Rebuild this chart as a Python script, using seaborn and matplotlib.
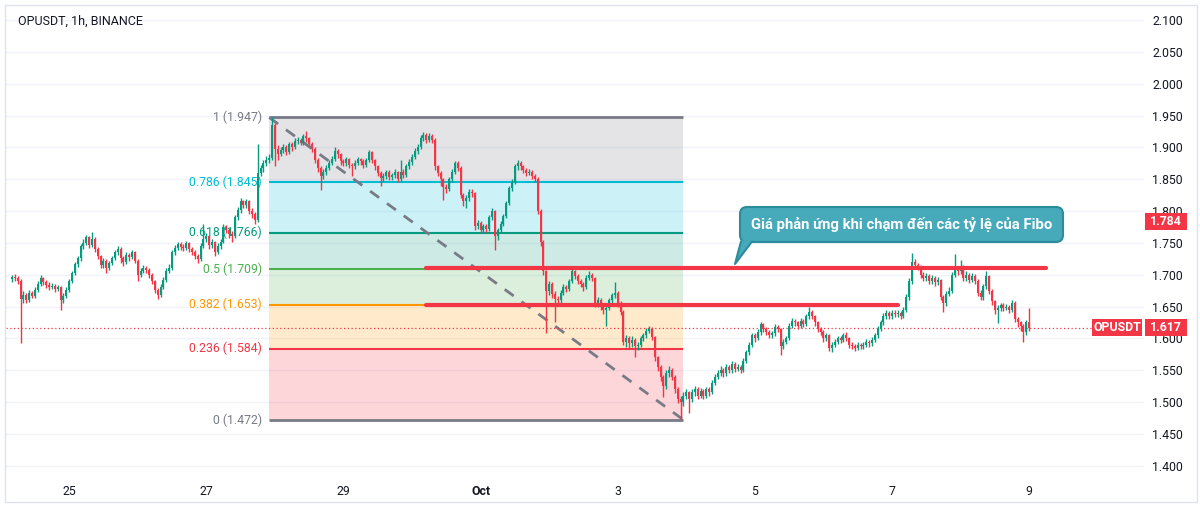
import numpy as np
import pandas as pd
import matplotlib
matplotlib.use("Agg")
import matplotlib.pyplot as plt
import matplotlib.transforms as mtransforms
from matplotlib.patches import Rectangle, Polygon, FancyBboxPatch
from matplotlib.lines import Line2D
import seaborn as sns

# ---------------- data ----------------
symbol_title = "OPUSDT, 1h, BINANCE"
start_time = "2023-09-24 04:00"
first_open = 1.693

closes = [
    1.697, 1.695, 1.690, 1.662, 1.668, 1.660, 1.672, 1.667, 1.676, 1.686,
    1.695, 1.688, 1.684, 1.680, 1.683, 1.677, 1.681, 1.660, 1.667, 1.676,
    1.690, 1.702, 1.716, 1.726, 1.745, 1.750, 1.759, 1.746, 1.756, 1.740,
    1.729, 1.715, 1.721, 1.710, 1.718, 1.726, 1.735, 1.741, 1.726, 1.720,
    1.731, 1.727, 1.735, 1.722, 1.700, 1.705, 1.711, 1.707, 1.700, 1.690,
    1.676, 1.668, 1.681, 1.692, 1.706, 1.711, 1.735, 1.742, 1.748, 1.744,
    1.742, 1.749, 1.740, 1.735, 1.729, 1.724, 1.745, 1.756, 1.761, 1.746,
    1.751, 1.735, 1.745, 1.752, 1.775, 1.770, 1.764, 1.760, 1.790, 1.801,
    1.815, 1.809, 1.815, 1.800, 1.795, 1.786, 1.860, 1.867, 1.875, 1.880,
    1.884, 1.935, 1.898, 1.890, 1.896, 1.901, 1.893, 1.905, 1.900, 1.910,
    1.912, 1.907, 1.918, 1.914, 1.905, 1.898, 1.880, 1.868, 1.855, 1.861,
    1.868, 1.876, 1.882, 1.895, 1.889, 1.878, 1.875, 1.881, 1.872, 1.870,
    1.876, 1.881, 1.878, 1.872, 1.880, 1.892, 1.880, 1.870, 1.860, 1.852,
    1.855, 1.861, 1.853, 1.856, 1.861, 1.850, 1.862, 1.857, 1.870, 1.877,
    1.885, 1.895, 1.900, 1.915, 1.920, 1.912, 1.918, 1.912, 1.870, 1.860,
    1.850, 1.838, 1.835, 1.850, 1.862, 1.875, 1.868, 1.825, 1.815, 1.820,
    1.830, 1.828, 1.776, 1.781, 1.770, 1.776, 1.772, 1.790, 1.800, 1.760,
    1.770, 1.780, 1.792, 1.812, 1.836, 1.846, 1.870, 1.875, 1.870, 1.865,
    1.860, 1.862, 1.855, 1.850, 1.800, 1.752, 1.705, 1.675, 1.685, 1.670,
    1.662, 1.660, 1.672, 1.680, 1.678, 1.690, 1.705, 1.698, 1.690, 1.685,
    1.680, 1.695, 1.700, 1.695, 1.655, 1.660, 1.650, 1.645, 1.648, 1.660,
    1.668, 1.672, 1.655, 1.642, 1.595, 1.600, 1.592, 1.598, 1.588, 1.590,
    1.600, 1.605, 1.612, 1.615, 1.602, 1.570, 1.555, 1.540, 1.525, 1.545,
    1.550, 1.540, 1.520, 1.505, 1.500, 1.510, 1.515, 1.505, 1.515, 1.520,
    1.510, 1.518, 1.510, 1.520, 1.515, 1.530, 1.540, 1.545, 1.550, 1.545,
    1.555, 1.550, 1.560, 1.552, 1.555, 1.550, 1.565, 1.578, 1.590, 1.605,
    1.600, 1.610, 1.622, 1.615, 1.610, 1.605, 1.608, 1.618, 1.615, 1.588,
    1.595, 1.600, 1.620, 1.628, 1.625, 1.620, 1.628, 1.622, 1.635, 1.642,
    1.635, 1.625, 1.615, 1.610, 1.600, 1.605, 1.585, 1.590, 1.595, 1.600,
    1.598, 1.605, 1.600, 1.590, 1.588, 1.585, 1.590, 1.588, 1.590, 1.595,
    1.592, 1.598, 1.605, 1.615, 1.625, 1.635, 1.640, 1.635, 1.640, 1.638,
    1.640, 1.635, 1.645, 1.665, 1.690, 1.720, 1.715, 1.712, 1.700, 1.695,
    1.698, 1.690, 1.695, 1.688, 1.692, 1.665, 1.655, 1.670, 1.675, 1.700,
    1.710, 1.705, 1.712, 1.695, 1.700, 1.692, 1.698, 1.690, 1.672, 1.665,
    1.682, 1.698, 1.675, 1.658, 1.645, 1.648, 1.652, 1.648, 1.650, 1.645,
    1.655, 1.630, 1.625, 1.620, 1.610, 1.625, 1.617,
]

highs = [
    1.700, 1.701, 1.698, 1.693, 1.674, 1.672, 1.676, 1.675, 1.680, 1.690,
    1.699, 1.697, 1.691, 1.688, 1.687, 1.686, 1.684, 1.683, 1.671, 1.680,
    1.693, 1.706, 1.720, 1.730, 1.748, 1.756, 1.763, 1.761, 1.767, 1.759,
    1.743, 1.731, 1.726, 1.724, 1.722, 1.730, 1.739, 1.745, 1.743, 1.729,
    1.735, 1.734, 1.739, 1.737, 1.724, 1.710, 1.715, 1.714, 1.710, 1.703,
    1.692, 1.679, 1.685, 1.696, 1.710, 1.716, 1.739, 1.746, 1.752, 1.751,
    1.748, 1.753, 1.751, 1.743, 1.738, 1.732, 1.749, 1.780, 1.766, 1.763,
    1.756, 1.753, 1.749, 1.756, 1.779, 1.778, 1.773, 1.768, 1.794, 1.806,
    1.820, 1.818, 1.819, 1.817, 1.804, 1.798, 1.905, 1.872, 1.880, 1.886,
    1.890, 1.947, 1.938, 1.903, 1.900, 1.906, 1.904, 1.909, 1.908, 1.914,
    1.917, 1.915, 1.921, 1.925, 1.917, 1.908, 1.900, 1.883, 1.871, 1.866,
    1.872, 1.880, 1.887, 1.900, 1.898, 1.891, 1.882, 1.885, 1.884, 1.876,
    1.880, 1.885, 1.884, 1.881, 1.884, 1.896, 1.894, 1.882, 1.873, 1.863,
    1.860, 1.865, 1.864, 1.860, 1.866, 1.863, 1.880, 1.866, 1.874, 1.881,
    1.889, 1.899, 1.905, 1.919, 1.924, 1.922, 1.922, 1.921, 1.914, 1.873,
    1.863, 1.852, 1.842, 1.854, 1.866, 1.879, 1.878, 1.870, 1.828, 1.825,
    1.834, 1.834, 1.830, 1.786, 1.784, 1.780, 1.779, 1.794, 1.805, 1.802,
    1.774, 1.784, 1.796, 1.816, 1.840, 1.850, 1.874, 1.880, 1.878, 1.873,
    1.868, 1.866, 1.865, 1.858, 1.853, 1.803, 1.755, 1.708, 1.690, 1.688,
    1.674, 1.667, 1.676, 1.685, 1.684, 1.694, 1.710, 1.708, 1.701, 1.693,
    1.688, 1.699, 1.705, 1.703, 1.697, 1.665, 1.663, 1.653, 1.652, 1.664,
    1.672, 1.688, 1.675, 1.658, 1.645, 1.605, 1.603, 1.603, 1.601, 1.595,
    1.604, 1.609, 1.616, 1.620, 1.618, 1.604, 1.573, 1.558, 1.543, 1.550,
    1.556, 1.553, 1.543, 1.523, 1.509, 1.515, 1.520, 1.518, 1.520, 1.525,
    1.523, 1.522, 1.521, 1.524, 1.523, 1.534, 1.544, 1.550, 1.556, 1.553,
    1.560, 1.558, 1.565, 1.563, 1.559, 1.558, 1.569, 1.582, 1.595, 1.609,
    1.608, 1.614, 1.626, 1.624, 1.618, 1.613, 1.612, 1.622, 1.621, 1.617,
    1.599, 1.604, 1.624, 1.632, 1.631, 1.628, 1.632, 1.630, 1.639, 1.649,
    1.645, 1.637, 1.628, 1.618, 1.613, 1.609, 1.607, 1.594, 1.599, 1.604,
    1.603, 1.609, 1.610, 1.602, 1.594, 1.591, 1.594, 1.593, 1.594, 1.599,
    1.598, 1.602, 1.609, 1.619, 1.629, 1.640, 1.645, 1.643, 1.645, 1.644,
    1.645, 1.643, 1.650, 1.670, 1.695, 1.734, 1.725, 1.719, 1.715, 1.704,
    1.702, 1.701, 1.699, 1.698, 1.697, 1.694, 1.668, 1.674, 1.680, 1.704,
    1.733, 1.714, 1.723, 1.715, 1.705, 1.703, 1.702, 1.701, 1.693, 1.676,
    1.686, 1.705, 1.700, 1.678, 1.661, 1.652, 1.656, 1.655, 1.654, 1.653,
    1.660, 1.658, 1.634, 1.628, 1.623, 1.629, 1.647,
]

lows = [
    1.688, 1.690, 1.686, 1.593, 1.655, 1.655, 1.657, 1.663, 1.664, 1.673,
    1.683, 1.684, 1.679, 1.676, 1.677, 1.673, 1.674, 1.645, 1.656, 1.664,
    1.673, 1.687, 1.699, 1.712, 1.722, 1.740, 1.746, 1.742, 1.743, 1.736,
    1.724, 1.710, 1.711, 1.703, 1.707, 1.715, 1.723, 1.731, 1.719, 1.714,
    1.717, 1.722, 1.724, 1.718, 1.690, 1.696, 1.702, 1.703, 1.695, 1.685,
    1.671, 1.662, 1.665, 1.678, 1.689, 1.702, 1.708, 1.731, 1.738, 1.739,
    1.737, 1.739, 1.736, 1.731, 1.725, 1.719, 1.721, 1.742, 1.751, 1.741,
    1.742, 1.730, 1.732, 1.741, 1.749, 1.765, 1.758, 1.752, 1.757, 1.786,
    1.797, 1.804, 1.805, 1.795, 1.789, 1.780, 1.783, 1.855, 1.862, 1.870,
    1.875, 1.880, 1.870, 1.880, 1.886, 1.891, 1.888, 1.890, 1.895, 1.897,
    1.905, 1.903, 1.904, 1.909, 1.900, 1.893, 1.875, 1.862, 1.833, 1.850,
    1.857, 1.864, 1.872, 1.879, 1.884, 1.873, 1.870, 1.871, 1.867, 1.855,
    1.866, 1.872, 1.873, 1.867, 1.869, 1.877, 1.876, 1.865, 1.855, 1.840,
    1.847, 1.851, 1.848, 1.849, 1.852, 1.845, 1.847, 1.852, 1.854, 1.866,
    1.873, 1.881, 1.890, 1.897, 1.910, 1.907, 1.908, 1.907, 1.865, 1.855,
    1.840, 1.817, 1.828, 1.831, 1.846, 1.858, 1.863, 1.820, 1.808, 1.805,
    1.816, 1.822, 1.770, 1.771, 1.765, 1.766, 1.767, 1.769, 1.786, 1.739,
    1.755, 1.766, 1.776, 1.789, 1.809, 1.832, 1.843, 1.865, 1.865, 1.860,
    1.855, 1.856, 1.850, 1.845, 1.795, 1.745, 1.700, 1.608, 1.668, 1.664,
    1.626, 1.654, 1.656, 1.668, 1.673, 1.675, 1.687, 1.693, 1.685, 1.680,
    1.675, 1.677, 1.691, 1.690, 1.650, 1.650, 1.645, 1.638, 1.620, 1.645,
    1.656, 1.664, 1.650, 1.637, 1.590, 1.587, 1.583, 1.586, 1.571, 1.582,
    1.586, 1.596, 1.601, 1.608, 1.597, 1.565, 1.548, 1.533, 1.508, 1.521,
    1.540, 1.535, 1.514, 1.498, 1.472, 1.494, 1.505, 1.483, 1.500, 1.510,
    1.505, 1.506, 1.505, 1.506, 1.510, 1.512, 1.526, 1.536, 1.541, 1.540,
    1.541, 1.545, 1.546, 1.547, 1.548, 1.545, 1.547, 1.561, 1.574, 1.586,
    1.595, 1.597, 1.606, 1.610, 1.605, 1.600, 1.601, 1.604, 1.610, 1.574,
    1.583, 1.591, 1.597, 1.616, 1.620, 1.615, 1.616, 1.618, 1.619, 1.631,
    1.630, 1.620, 1.610, 1.605, 1.595, 1.596, 1.580, 1.578, 1.586, 1.591,
    1.593, 1.594, 1.596, 1.585, 1.583, 1.580, 1.581, 1.583, 1.584, 1.586,
    1.587, 1.588, 1.594, 1.601, 1.611, 1.621, 1.630, 1.630, 1.631, 1.633,
    1.634, 1.630, 1.632, 1.641, 1.661, 1.686, 1.709, 1.707, 1.695, 1.690,
    1.690, 1.685, 1.686, 1.683, 1.684, 1.660, 1.641, 1.651, 1.666, 1.671,
    1.696, 1.699, 1.701, 1.690, 1.690, 1.687, 1.688, 1.685, 1.667, 1.660,
    1.661, 1.678, 1.670, 1.653, 1.638, 1.624, 1.643, 1.643, 1.644, 1.640,
    1.641, 1.625, 1.618, 1.612, 1.594, 1.606, 1.612,
]

day_ticks = ["2023-09-25", "2023-09-27", "2023-09-29", "2023-10-01",
             "2023-10-03", "2023-10-05", "2023-10-07", "2023-10-09"]
day_labels = ["25", "27", "29", "Oct", "3", "5", "7", "9"]
price_ticks = [1.40, 1.45, 1.50, 1.55, 1.60, 1.65, 1.70, 1.75,
               1.80, 1.85, 1.90, 1.95, 2.00, 2.05, 2.10]

fib_ratios = [1, 0.786, 0.618, 0.5, 0.382, 0.236, 0]
fib_prices = [1.947, 1.845, 1.766, 1.709, 1.653, 1.584, 1.472]
fib_colors = ["#787B86", "#00BCD4", "#089981", "#4CAF50", "#FF9800", "#F23645", "#787B86"]
fib_start = "2023-09-27 22:00"
fib_end = "2023-10-03 23:00"

res_levels = [1.710, 1.653]
res_starts = ["2023-09-30 05:00", "2023-09-30 05:00"]
res_ends = ["2023-10-09 06:00", "2023-10-07 02:00"]

callout_text = "Giá phản ứng khi chạm đến các tỷ lệ của Fibo"
last_price = 1.617
alert_price = 1.784
ticker = "OPUSDT"

# ---------------- style ----------------
UP = "#089981"
DOWN = "#F23645"
TXT = "#131722"
GRID = "#F0F3FA"
CALL_FC = "#46AABB"
CALL_EC = "#2B8C9C"

sns.set_style("white")
plt.rcParams["font.family"] = ["Roboto", "DejaVu Sans"]

W, H = 1200, 509
fig = plt.figure(figsize=(W / 100, H / 100), dpi=100)
fig.patch.set_facecolor("white")

# pane: x 6..1144 px, y 6..475 px
ax = fig.add_axes([6 / W, 1 - 475 / H, (1144 - 6) / W, (475 - 6) / H])
ax.set_facecolor("white")

n = min(len(closes), len(highs), len(lows))
opens = [first_open] + closes[: n - 1]
t0 = pd.Timestamp(start_time)
df = pd.DataFrame({
    "time": pd.date_range(start_time, periods=n, freq="h"),
    "open": opens, "high": highs[:n], "low": lows[:n], "close": closes[:n],
})
df["x"] = np.arange(n)


def t2x(ts):
    return (pd.Timestamp(ts) - t0) / pd.Timedelta("1h")


ax.set_xlim(-2.1, 396.2)
ax.set_ylim(2.1 - (475 - 20) / 636.7, 2.1 + (20 - 6) / 636.7)

# grid
for p in price_ticks:
    ax.axhline(p, color=GRID, lw=1, zorder=0)

# fib retracement
fx0, fx1 = t2x(fib_start), t2x(fib_end)
for k in range(len(fib_prices) - 1):
    ax.fill_between([fx0, fx1], fib_prices[k + 1], fib_prices[k],
                    color=fib_colors[k], alpha=0.2, lw=0, zorder=1)
for r, p, c in zip(fib_ratios, fib_prices, fib_colors):
    lw = 2.0 if r in (0, 1) else 1.5
    ax.plot([fx0, fx1], [p, p], color=c, lw=lw, zorder=2, solid_capstyle="butt")
    ax.text(fx0 - 2.5, p, f"{r:g} ({p:.3f})", color=c, fontsize=8.8,
            ha="right", va="center", zorder=3)

# dashed trend line (seaborn)
trend = pd.DataFrame({"x": [fx0, fx1], "y": [fib_prices[0], fib_prices[-1]]})
sns.lineplot(data=trend, x="x", y="y", ax=ax, color="#787B86", lw=2,
             zorder=3, legend=False)
ax.lines[-1].set_dashes([4, 3.5])

# candles
up = df["close"] >= df["open"]
cols = np.where(up, UP, DOWN)
ax.vlines(df["x"], df["low"], df["high"], colors=cols, lw=1, zorder=4)
body_lo = np.minimum(df["open"], df["close"])
body_h = np.maximum(np.abs(df["close"] - df["open"]), 0.0012)
ax.bar(df["x"], body_h, bottom=body_lo, width=0.72, color=cols, lw=0, zorder=5)

# last price dotted line
ax.plot([-2.1, 379.6], [last_price, last_price], color=DOWN, lw=0.9,
        ls=(0, (1, 2)), zorder=3)

# drawn resistance lines
for lvl, s, e in zip(res_levels, res_starts, res_ends):
    ax.plot([t2x(s), t2x(e)], [lvl, lvl], color="#F23645", lw=3, zorder=6,
            solid_capstyle="round")

# callout (pixel layout)
ident = mtransforms.IdentityTransform()
box = FancyBboxPatch((740, H - 242), 323, 35,
                     boxstyle="round,pad=0,rounding_size=7",
                     fc=CALL_FC, ec=CALL_EC, lw=1.5, transform=ident, zorder=30)
fig.add_artist(box)
tail = Polygon([(741.5, H - 240.5), (752, H - 240.5), (735, H - 264)], closed=True,
               fc=CALL_FC, ec="none", transform=ident, zorder=31)
fig.add_artist(tail)
fig.add_artist(Line2D([741, 735, 752], [H - 241.5, H - 264, H - 241.5],
                      color=CALL_EC, lw=1.5, transform=ident, zorder=32))
fig.text(902 / W, 1 - 224 / H, callout_text, color="white", fontsize=10.7,
         fontweight="bold", ha="center", va="center", zorder=33)

# axes styling
for s in ax.spines.values():
    s.set_visible(False)
ax.yaxis.tick_right()
ax.set_yticks(price_ticks)
ax.set_yticklabels([f"{p:.3f}" for p in price_ticks], fontsize=8.8, color=TXT)
ax.tick_params(axis="y", length=0, pad=6)
ax.set_xticks([t2x(d) for d in day_ticks])
ax.set_xticklabels(day_labels, fontsize=8.8, color=TXT)
ax.tick_params(axis="x", length=0, pad=7)
for t in ax.get_xticklabels():
    if t.get_text() == "Oct":
        t.set_fontweight("bold")
ax.set_xlabel("")
ax.set_ylabel("")

# right scale price tags
bt = mtransforms.blended_transform_factory(ax.transAxes, ax.transData)
pw = 1138.0
hh = 8.5 / 636.7


def tag(px0, px1, price, text):
    r = Rectangle(((px0 - 6) / pw, price - hh), (px1 - px0) / pw, 2 * hh,
                  transform=bt, fc=DOWN, ec="none", clip_on=False, zorder=20)
    ax.add_patch(r)
    ax.text(((px0 + px1) / 2 - 6) / pw, price, text, transform=bt, color="white",
            fontsize=8.8, fontweight="bold", ha="center", va="center",
            clip_on=False, zorder=21)


tag(1145, 1187, alert_price, f"{alert_price:.3f}")
tag(1092, 1142, last_price, ticker)
tag(1145, 1187, last_price, f"{last_price:.3f}")

# title
fig.text(18 / W, 1 - 21 / H, symbol_title, fontsize=9, color=TXT, ha="left", va="center")

# outer frame
fig.patches.append(Rectangle((5 / W, 1 - 502 / H), 1192 / W, 497 / H,
                             transform=fig.transFigure, fill=False,
                             ec="#E0E3EB", lw=1))

fig.savefig("out.png", dpi=100, facecolor="white")
